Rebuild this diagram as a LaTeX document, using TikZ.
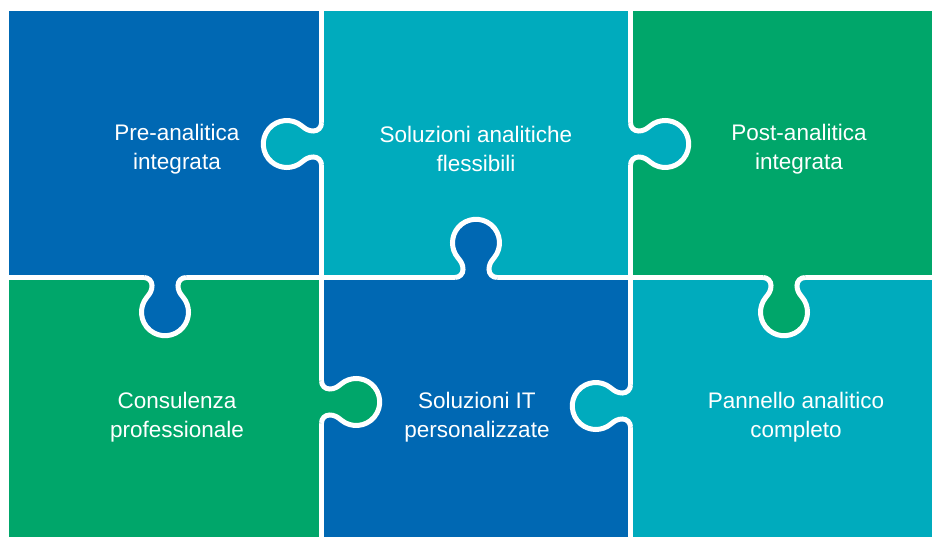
\documentclass[tikz,border=0pt]{standalone}
\usepackage{fontspec}
\setmainfont{Liberation Sans}
\definecolor{pblue}{HTML}{0068B3}
\definecolor{pteal}{HTML}{00ABBD}
\definecolor{pgreen}{HTML}{00A66A}
\newcommand{\knobpath}{(0,-21) to[out=90,in=180] (8,-13) to[out=0,in=140] (19.6,-18) arc[start angle=-130,end angle=130,radius=23.5] to[out=220,in=0] (8,13) to[out=180,in=-90] (0,21)}
\newcommand{\knob}[4]{%
  \begin{scope}[shift={(#1,#2)},rotate=#3]
    \fill[#4] (-4,-21) -- \knobpath -- (-4,21) -- cycle;
    \draw[cutline] \knobpath;
  \end{scope}}
\tikzset{
  cutline/.style={draw=white,line width=5pt},
  label/.style={text=white,align=center,font=\fontsize{22.5}{29}\selectfont,inner sep=0pt}
}
\begin{document}
\begin{tikzpicture}[x=1pt,y=1pt]
\useasboundingbox (0,0) rectangle (932,536);
\clip (0,0) rectangle (932,536);
\fill[white] (0,0) rectangle (932,536);
% pieces
\fill[pblue]  (9,258.5) rectangle (321.5,525);
\fill[pteal]  (321.5,258.5) rectangle (630.5,525);
\fill[pgreen] (630.5,258.5) rectangle (945,525);
\fill[pgreen] (9,-10) rectangle (321.5,258.5);
\fill[pblue]  (321.5,-10) rectangle (630.5,258.5);
\fill[pteal]  (630.5,-10) rectangle (945,258.5);
% cut lines
\draw[cutline] (9,258.5) -- (945,258.5);
\draw[cutline] (321.5,525) -- (321.5,-10);
\draw[cutline] (630.5,525) -- (630.5,-10);
% knobs
\knob{321.5}{392}{180}{pteal}
\knob{630.5}{392}{0}{pteal}
\knob{165}{258.5}{-90}{pblue}
\knob{476}{258.5}{90}{pblue}
\knob{784}{258.5}{-90}{pgreen}
\knob{321.5}{134}{0}{pgreen}
\knob{630.5}{130}{180}{pteal}
% labels
\node[label] (t1) at (177,387) {Pre-analitica\\integrata};
\node[label] (t2) at (476,387) {Soluzioni analitiche\\flessibili};
\node[label] (t3) at (799,387) {Post-analitica\\integrata};
\node[label] (t4) at (177,119) {Consulenza\\professionale};
\node[label] (t5) at (477,119) {Soluzioni IT\\personalizzate};
\node[label] (t6) at (796,119) {Pannello analitico\\completo};
\end{tikzpicture}
\end{document}
